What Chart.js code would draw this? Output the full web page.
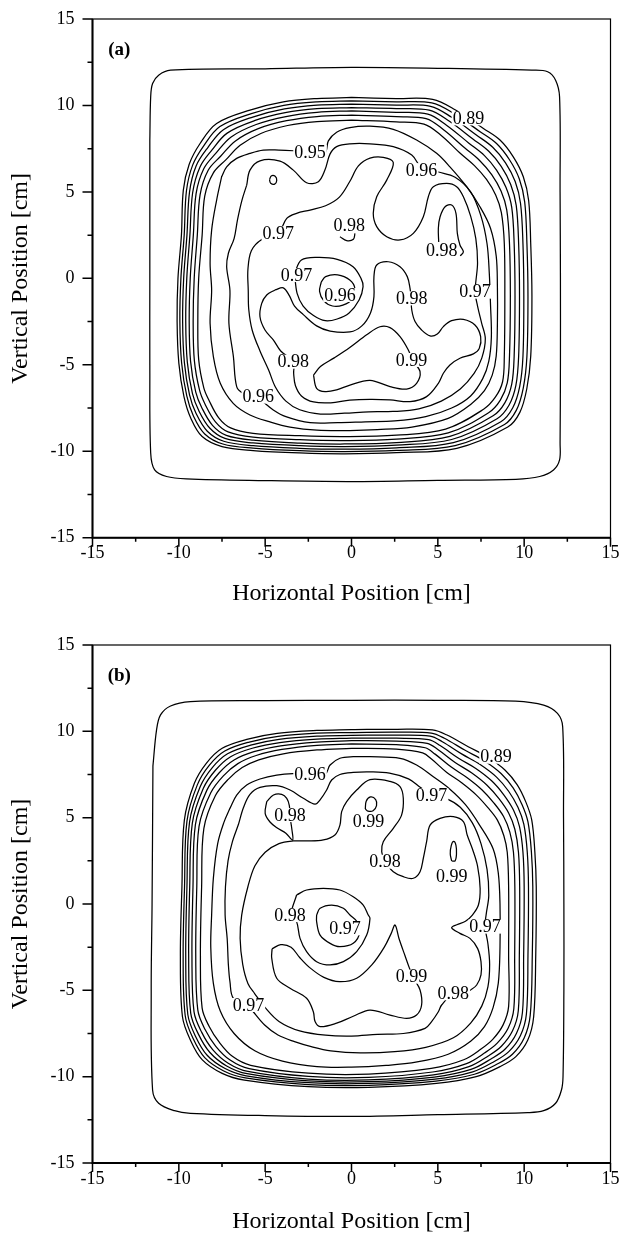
<!DOCTYPE html>
<html>
<head>
<meta charset="utf-8">
<script src="https://cdn.jsdelivr.net/npm/chart.js@4.4.1/dist/chart.umd.min.js"></script>
<style>
  html, body { margin: 0; padding: 0; background: #fff; overflow: hidden; }
  .panel { position: relative; width: 621px; height: 617px; }
</style>
</head>
<body>
<div class="panel"><canvas id="chartA"></canvas></div>
<div class="panel"><canvas id="chartB"></canvas></div>
<script>
// ---- panel (a) ----
const outerA = [[-11.68,8],[-11.63,10.5],[-11.52,11.27],[-11.17,11.75],[-10.48,12.04],[-5,12.12],[0,12.2],[5,12.15],[10.44,12.04],[11.36,11.95],[11.82,11.46],[12.05,10.5],[12.08,5],[12.1,0],[12.1,-5],[12.08,-9.5],[12.05,-10.5],[11.7,-11.08],[10.9,-11.46],[9.52,-11.62],[5,-11.68],[0,-11.75],[-5,-11.7],[-9.56,-11.6],[-10.71,-11.46],[-11.4,-11.08],[-11.63,-10.1],[-11.68,-5],[-11.68,0]];

const bandA = [
  [[0,10.46],[2.6,10.4],[4.7,10.35],[6.0,9.75],[7.64,8.67],[8.6,8.0],[9.37,7.03],[9.95,5.88],[10.26,4.5],[10.38,2],[10.45,-1],[10.38,-4.5],[10.15,-6.4],[9.75,-7.75],[9.05,-8.6],[6.1,-9.83],[2.6,-10.08],[-0.4,-10.15],[-3,-10.1],[-5.7,-9.96],[-7.5,-9.73],[-8.65,-9.15],[-9.3,-8.1],[-9.7,-6.85],[-10.0,-4.9],[-10.1,-2.5],[-10.05,0],[-9.85,2.5],[-9.74,5.1],[-9.4,6.6],[-8.77,7.8],[-7.81,8.96],[-5.88,9.73],[-3.95,10.21],[-2.0,10.4]],
  [[0,10.27],[2.6,10.21],[4.65,10.15],[5.9,9.55],[7.45,8.48],[8.4,7.8],[9.15,6.86],[9.72,5.75],[10.03,4.42],[10.16,2],[10.22,-1],[10.16,-4.5],[9.95,-6.33],[9.55,-7.62],[8.86,-8.45],[6.0,-9.67],[2.6,-9.95],[-0.4,-10.02],[-3,-9.97],[-5.7,-9.82],[-7.45,-9.58],[-8.5,-9.0],[-9.15,-7.97],[-9.54,-6.8],[-9.84,-4.88],[-9.94,-2.5],[-9.88,0],[-9.69,2.5],[-9.56,5.05],[-9.2,6.55],[-8.55,7.68],[-7.62,8.78],[-5.8,9.53],[-3.92,10.01],[-2.0,10.21]],
  [[0,10.08],[2.6,10.02],[4.58,9.95],[5.78,9.33],[7.25,8.28],[8.18,7.58],[8.92,6.68],[9.48,5.6],[9.79,4.33],[9.93,2],[9.98,-1],[9.93,-4.5],[9.74,-6.26],[9.34,-7.48],[8.65,-8.29],[5.9,-9.5],[2.6,-9.8],[-0.4,-9.88],[-3,-9.83],[-5.7,-9.68],[-7.4,-9.42],[-8.35,-8.84],[-9.0,-7.82],[-9.38,-6.74],[-9.68,-4.86],[-9.78,-2.5],[-9.72,0],[-9.53,2.5],[-9.38,5.0],[-9.0,6.5],[-8.33,7.55],[-7.42,8.6],[-5.72,9.33],[-3.88,9.8],[-2.0,10.02]],
  [[0,9.88],[2.6,9.82],[4.5,9.73],[5.65,9.1],[7.03,8.06],[7.95,7.35],[8.67,6.48],[9.22,5.43],[9.54,4.22],[9.68,2],[9.73,-1],[9.68,-4.5],[9.52,-6.19],[9.12,-7.34],[8.43,-8.12],[5.8,-9.32],[2.6,-9.65],[-0.4,-9.73],[-3,-9.68],[-5.7,-9.52],[-7.33,-9.26],[-8.2,-8.67],[-8.84,-7.66],[-9.21,-6.67],[-9.51,-4.83],[-9.6,-2.5],[-9.54,0],[-9.36,2.5],[-9.2,4.95],[-8.78,6.43],[-8.1,7.4],[-7.2,8.4],[-5.62,9.12],[-3.84,9.58],[-2.0,9.81]],
  [[0,9.69],[2.6,9.6],[4.42,9.5],[5.5,8.86],[6.8,7.82],[7.7,7.1],[8.4,6.26],[8.95,5.25],[9.28,4.1],[9.42,2],[9.47,-1],[9.42,-4.5],[9.28,-6.12],[8.88,-7.2],[8.2,-7.95],[5.7,-9.14],[2.6,-9.5],[-0.4,-9.58],[-3,-9.53],[-5.7,-9.36],[-7.25,-9.08],[-8.05,-8.5],[-8.67,-7.48],[-9.02,-6.58],[-9.32,-4.8],[-9.4,-2.5],[-9.34,0],[-9.16,2.5],[-9.0,4.9],[-8.55,6.35],[-7.85,7.24],[-6.97,8.18],[-5.52,8.9],[-3.8,9.36],[-2.0,9.6]],
  [[0,9.44],[2.6,9.35],[4.32,9.24],[5.35,8.58],[6.55,7.55],[7.42,6.82],[8.12,6.0],[8.66,5.05],[8.99,3.96],[9.15,2],[9.2,-1],[9.15,-4.5],[9.02,-6.05],[8.62,-7.04],[7.94,-7.77],[5.6,-8.94],[2.6,-9.3],[-0.4,-9.38],[-3,-9.33],[-5.7,-9.18],[-7.15,-8.88],[-7.88,-8.3],[-8.48,-7.28],[-8.8,-6.47],[-9.1,-4.76],[-9.17,-2.5],[-9.11,0],[-8.93,2.5],[-8.77,4.83],[-8.3,6.25],[-7.58,7.06],[-6.72,7.95],[-5.4,8.66],[-3.76,9.12],[-2.0,9.36]],
  [[0,9.15],[2.6,9.05],[4.2,8.92],[5.18,8.28],[6.28,7.25],[7.12,6.52],[7.82,5.72],[8.35,4.82],[8.68,3.8],[8.85,2],[8.88,-1],[8.85,-4.5],[8.75,-5.98],[8.34,-6.86],[7.65,-7.57],[5.45,-8.72],[2.6,-9.07],[-0.4,-9.15],[-3,-9.1],[-5.7,-8.96],[-7.0,-8.65],[-7.7,-8.05],[-8.27,-7.02],[-8.55,-6.35],[-8.85,-4.7],[-8.9,-2.5],[-8.85,0],[-8.65,2.5],[-8.5,4.75],[-8.0,6.1],[-7.28,6.85],[-6.45,7.7],[-5.25,8.38],[-3.7,8.84],[-2.0,9.07]]
];

const c95A = [[-7.52,5.88],[-7.23,6.45],[-6.65,6.94],[-5.88,7.23],[-5.11,7.42],[-4.2,7.42],[-3.37,7.38],[-2.4,7.3],[-1.54,7.25],[-1.34,7.95],[-0.86,8.45],[-0.09,8.72],[1.07,8.8],[2.42,8.62],[3.77,8.0],[4.93,7.23],[5.7,6.45],[6.67,5.3],[7.44,4.14],[8.05,2.9],[8.38,1.3],[8.45,-0.5],[8.45,-2.6],[8.38,-4.5],[8.15,-5.6],[7.7,-6.5],[6.9,-7.3],[5.6,-8.1],[3.5,-8.6],[1.5,-8.75],[-0.1,-8.8],[-2.0,-8.78],[-3.56,-8.6],[-4.72,-8.3],[-5.88,-7.9],[-6.85,-7.23],[-7.6,-6.07],[-8.0,-4.53],[-8.19,-2.6],[-8.1,-0.7],[-8.19,0.87],[-8.1,2.79],[-7.81,4.53]];
const c96A = [[-6.07,5.39],[-5.88,6.26],[-5.3,6.8],[-4.14,6.78],[-3.37,6.26],[-2.6,5.53],[-1.92,5.59],[-1.54,6.26],[-1.24,7.2],[-0.86,7.62],[-0.09,7.78],[1.07,7.78],[2.42,7.62],[3.49,7.13],[4.06,6.4],[5.03,6.15],[6.0,5.85],[6.9,5.0],[7.5,3.6],[7.85,2.0],[7.98,0.3],[8.05,-1.5],[8.1,-3.4],[7.95,-4.8],[7.6,-5.8],[6.9,-6.8],[5.8,-7.5],[4.3,-8.0],[2.5,-8.25],[0.8,-8.3],[-0.8,-8.35],[-2.4,-8.35],[-3.8,-8.0],[-4.53,-7.61],[-5.4,-6.95],[-6.27,-6.65],[-6.65,-6.26],[-6.84,-4.53],[-7.1,-2.6],[-7.04,-0.7],[-7.23,0.67],[-7.13,1.45],[-6.8,2.3],[-6.6,3.4],[-6.35,4.5]];
const c97A = [[-5.98,-0.7],[-6.0,0.5],[-5.8,1.6],[-5.2,2.25],[-4.24,2.6],[-3.75,3.47],[-3.18,3.76],[-2.4,3.95],[-1.5,4.2],[-0.7,4.7],[-0.1,5.6],[0.4,6.5],[1.07,6.95],[1.84,7.0],[2.42,6.7],[2.04,5.68],[1.46,4.72],[1.26,3.76],[1.46,2.99],[2.04,2.41],[2.81,2.22],[3.58,2.6],[4.16,3.56],[4.45,4.72],[4.74,5.3],[5.51,5.49],[6.09,5.3],[6.48,4.72],[6.9,3.6],[7.2,2.3],[7.3,0.9],[7.2,-0.2],[7.15,-0.77],[7.3,-1.6],[7.54,-2.6],[7.75,-3.5],[7.55,-4.6],[7.1,-5.5],[6.3,-6.4],[5.2,-7.1],[3.9,-7.55],[2.4,-7.7],[1.0,-7.72],[-0.4,-7.8],[-1.8,-7.85],[-3.0,-7.6],[-3.8,-7.1],[-4.4,-6.3],[-4.8,-5.3],[-5.3,-4.2],[-5.75,-3.0],[-5.95,-1.8]];
const c98A = [[-4.43,-0.67],[-4.91,-0.96],[-5.2,-1.45],[-5.3,-2.22],[-5.01,-2.99],[-4.53,-3.56],[-4.1,-4.2],[-3.37,-4.82],[-3.35,-5.5],[-3.25,-6.2],[-2.9,-6.8],[-2.2,-7.15],[-1.2,-7.2],[-0.1,-7.05],[1.07,-7.0],[2.23,-7.03],[3.39,-7.13],[4.35,-6.84],[5.03,-6.07],[5.32,-5.49],[5.7,-5.01],[6.28,-4.62],[7.06,-4.37],[7.4,-4.05],[7.48,-3.37],[7.15,-2.7],[6.48,-2.37],[5.8,-2.45],[5.32,-2.79],[4.97,-3.22],[4.55,-3.33],[4.06,-2.99],[3.68,-2.5],[3.49,-1.83],[3.45,-1.16],[3.39,-0.58],[3.23,0.1],[2.81,0.67],[2.13,0.96],[1.46,0.77],[1.3,0.1],[1.3,-1.06],[1.1,-2.0],[0.6,-2.75],[-0.09,-3.1],[-1.24,-3.05],[-2.02,-2.75],[-2.79,-2.1],[-3.3,-1.6],[-3.6,-1.0],[-3.95,-0.55]];
const c99A = [[-2.2,-5.6],[-1.8,-5.1],[-1.0,-4.6],[-0.1,-4.0],[0.9,-3.25],[1.65,-2.8],[2.23,-2.85],[2.81,-3.37],[3.29,-4.14],[3.55,-4.75],[3.97,-5.4],[3.77,-6.07],[3.19,-6.4],[2.23,-6.26],[1.07,-5.9],[-0.09,-6.17],[-0.86,-6.45],[-1.53,-6.55],[-2.02,-6.36]];
const loop97A = [[-3.3,0.3],[-2.9,1.06],[-1.98,1.21],[-0.83,1.1],[0.09,0.67],[0.55,0],[0.67,-0.48],[0.44,-1.25],[-0.14,-2.0],[-0.83,-2.35],[-1.52,-2.45],[-2.2,-2.15],[-2.8,-1.6],[-3.15,-0.87]];
const loop96A = [[-1.75,-0.2],[-1.5,0.1],[-0.8,0.2],[-0.1,-0.1],[0.2,-0.6],[0.05,-1.2],[-0.5,-1.55],[-1.1,-1.6],[-1.6,-1.3],[-1.85,-0.75]];
const dotA = [[-4.75,5.7],[-4.65,5.92],[-4.42,5.9],[-4.33,5.66],[-4.45,5.45],[-4.68,5.5]];
const hookA = [[-0.67,2.41],[-0.28,2.18],[0.11,2.26],[0.2,2.6]];
const tongueA = [[5.05,2.1],[5.03,2.9],[5.13,3.56],[5.42,4.14],[5.8,4.24],[6.05,3.76],[6.13,2.6],[6.28,1.93],[6.48,1.54],[6.3,1.3]];
const labelsA = [[6.77,9.25,'0.89'],[-2.4,7.32,'0.95'],[4.06,6.26,'0.96'],[-4.24,2.6,'0.97'],[-0.13,3.08,'0.98'],[5.22,1.64,'0.98'],[-3.18,0.19,'0.97'],[-0.67,-0.96,'0.96'],[3.49,-1.16,'0.98'],[7.15,-0.77,'0.97'],[-3.37,-4.82,'0.98'],[3.48,-4.72,'0.99'],[-5.4,-6.84,'0.96']];

// ---- panel (b) ----
const outerB = [[-11.5,8],[-11.29,10.08],[-11.06,10.95],[-10.48,11.47],[-9.33,11.72],[-5,11.78],[0,11.8],[5,11.8],[9.5,11.75],[11.13,11.52],[11.93,11.04],[12.23,10.27],[12.28,5],[12.3,0],[12.3,-5],[12.25,-10.0],[12.16,-10.77],[11.82,-11.54],[11.13,-11.97],[10.2,-12.08],[5,-12.2],[0,-12.3],[-5,-12.25],[-9.33,-12.12],[-10.25,-11.97],[-11.17,-11.54],[-11.52,-10.77],[-11.6,-5],[-11.55,0]];

const bandB = [
  [[0,10.1],[2.6,10.12],[4.69,10.08],[5.5,9.8],[6.76,9.11],[7.9,8.5],[8.9,7.75],[9.6,6.9],[10.1,5.9],[10.44,4.86],[10.62,3.0],[10.7,1],[10.67,-3],[10.55,-6.53],[10.21,-7.88],[9.52,-8.84],[8.6,-9.42],[7.22,-10.0],[4.92,-10.39],[1,-10.62],[-2.5,-10.58],[-6.2,-10.2],[-7.49,-9.81],[-8.64,-9.03],[-9.33,-7.88],[-9.79,-6.53],[-9.91,-3],[-9.82,1],[-9.68,4.86],[-9.1,6.99],[-8.41,8.15],[-7.49,9.02],[-6.0,9.55],[-4.3,9.88],[-2,10.05]],
  [[0,9.93],[2.6,9.95],[4.62,9.9],[5.38,9.6],[6.58,8.9],[7.68,8.3],[8.66,7.56],[9.36,6.72],[9.88,5.75],[10.22,4.75],[10.42,3.0],[10.5,1],[10.47,-3],[10.35,-6.45],[10.0,-7.76],[9.32,-8.7],[8.44,-9.27],[7.12,-9.86],[4.88,-10.26],[1,-10.5],[-2.5,-10.46],[-6.15,-10.07],[-7.4,-9.67],[-8.5,-8.9],[-9.18,-7.78],[-9.63,-6.47],[-9.75,-3],[-9.67,1],[-9.53,4.8],[-8.93,6.9],[-8.24,8.03],[-7.34,8.86],[-5.92,9.38],[-4.25,9.71],[-2,9.89]],
  [[0,9.77],[2.6,9.78],[4.55,9.72],[5.26,9.4],[6.4,8.68],[7.45,8.08],[8.4,7.35],[9.1,6.53],[9.64,5.6],[9.98,4.62],[10.18,3.0],[10.25,1],[10.22,-3],[10.13,-6.37],[9.78,-7.63],[9.11,-8.55],[8.27,-9.12],[7.02,-9.72],[4.84,-10.14],[1,-10.39],[-2.5,-10.35],[-6.1,-9.95],[-7.32,-9.53],[-8.36,-8.76],[-9.03,-7.67],[-9.48,-6.4],[-9.6,-3],[-9.53,1],[-9.38,4.74],[-8.76,6.8],[-8.06,7.9],[-7.18,8.7],[-5.84,9.2],[-4.2,9.53],[-2,9.72]],
  [[0,9.61],[2.6,9.6],[4.47,9.52],[5.13,9.18],[6.2,8.44],[7.2,7.85],[8.13,7.12],[8.82,6.32],[9.38,5.44],[9.73,4.48],[9.93,3.0],[10.0,1],[9.97,-3],[9.9,-6.28],[9.55,-7.5],[8.9,-8.4],[8.1,-8.96],[6.92,-9.58],[4.8,-10.02],[1,-10.29],[-2.5,-10.25],[-6.05,-9.83],[-7.23,-9.38],[-8.2,-8.6],[-8.86,-7.55],[-9.31,-6.33],[-9.43,-3],[-9.37,1],[-9.22,4.67],[-8.58,6.7],[-7.87,7.76],[-7.0,8.53],[-5.75,9.02],[-4.15,9.35],[-2,9.55]],
  [[0,9.46],[2.6,9.43],[4.38,9.3],[5.0,8.95],[6.0,8.2],[6.95,7.6],[7.85,6.88],[8.54,6.1],[9.1,5.27],[9.46,4.33],[9.67,3.0],[9.74,1],[9.72,-3],[9.66,-6.18],[9.32,-7.36],[8.68,-8.24],[7.92,-8.8],[6.8,-9.42],[4.75,-9.9],[1,-10.19],[-2.5,-10.14],[-6.0,-9.7],[-7.14,-9.22],[-8.04,-8.43],[-8.68,-7.42],[-9.12,-6.25],[-9.24,-3],[-9.18,1],[-9.04,4.6],[-8.38,6.58],[-7.66,7.6],[-6.8,8.34],[-5.65,8.82],[-4.1,9.16],[-2,9.38]],
  [[0,9.27],[2.6,9.23],[4.27,9.05],[4.84,8.68],[5.78,7.93],[6.68,7.33],[7.55,6.62],[8.24,5.86],[8.8,5.08],[9.17,4.16],[9.38,3.0],[9.46,1],[9.45,-3],[9.4,-6.07],[9.07,-7.2],[8.44,-8.06],[7.72,-8.62],[6.66,-9.24],[4.7,-9.73],[1,-10.04],[-2.5,-9.99],[-5.93,-9.54],[-7.03,-9.04],[-7.86,-8.24],[-8.48,-7.27],[-8.9,-6.15],[-9.02,-3],[-8.96,1],[-8.83,4.5],[-8.15,6.44],[-7.42,7.42],[-6.58,8.13],[-5.52,8.6],[-4.03,8.95],[-2,9.19]],
  [[0,9.02],[2.6,8.97],[4.12,8.75],[4.65,8.38],[5.52,7.62],[6.38,7.02],[7.22,6.32],[7.9,5.58],[8.45,4.86],[8.82,3.97],[9.02,3.0],[9.1,1],[9.1,-3],[9.1,-5.93],[8.78,-7.0],[8.18,-7.84],[7.5,-8.4],[6.5,-9.02],[4.62,-9.52],[1,-9.85],[-2.5,-9.8],[-5.84,-9.34],[-6.9,-8.82],[-7.65,-8.02],[-8.25,-7.08],[-8.65,-6.03],[-8.75,-3],[-8.68,1],[-8.55,4.38],[-7.88,6.28],[-7.14,7.22],[-6.33,7.9],[-5.37,8.35],[-3.95,8.7],[-2,8.92]]
];

const c96B = [[-7.04,5.54],[-6.65,6.31],[-6.07,6.89],[-5.3,7.24],[-4.33,7.47],[-3.4,7.55],[-2.4,7.51],[-1.53,7.51],[-1.24,8.05],[-0.67,8.44],[0.1,8.53],[1.07,8.53],[2.81,8.44],[3.77,8.05],[4.74,7.37],[5.7,6.65],[6.6,5.75],[7.4,4.6],[8.2,3.2],[8.5,1.8],[8.6,0],[8.6,-2.5],[8.5,-4.6],[8.2,-6.0],[7.7,-7.1],[6.9,-7.95],[5.6,-8.7],[3.8,-9.15],[2.0,-9.35],[0,-9.45],[-2.0,-9.42],[-4.0,-9.1],[-5.6,-8.5],[-6.8,-7.5],[-7.6,-6.2],[-8.0,-4.6],[-8.15,-2.5],[-8.1,-0.64],[-8.0,1.5],[-7.75,3.5],[-7.4,4.7]];
const c97B = [[-6.55,4.6],[-6.25,5.6],[-5.88,6.35],[-5.3,6.75],[-4.33,6.85],[-3.56,6.6],[-2.79,6.12],[-2.11,5.78],[-1.82,6.03],[-1.44,6.6],[-1.15,7.18],[-0.67,7.5],[0.1,7.62],[1.07,7.65],[2.2,7.58],[3.3,7.25],[4.0,6.75],[4.64,6.31],[5.5,6.1],[6.3,5.6],[7.0,4.7],[7.5,3.5],[7.85,2.0],[7.95,0.5],[7.8,-0.6],[7.73,-1.31],[7.9,-2.3],[8.0,-3.5],[7.9,-4.8],[7.55,-5.9],[6.9,-6.9],[5.9,-7.75],[4.3,-8.3],[2.5,-8.55],[0.5,-8.62],[-1.2,-8.5],[-2.33,-8.26],[-3.3,-7.97],[-4.26,-7.59],[-5.03,-7.01],[-5.69,-6.24],[-5.97,-5.85],[-6.84,-5.46],[-7.04,-4.5],[-7.13,-3.53],[-7.2,-2.0],[-7.32,-0.64],[-7.3,1.0],[-7.15,2.5],[-6.9,3.6]];
const c98B = [[1.94,2.45],[1.75,3.03],[1.84,3.61],[2.42,4.38],[2.9,5.15],[3.0,6.12],[2.81,6.8],[2.23,7.1],[1.07,7.2],[0.3,6.6],[-0.28,5.93],[-0.57,5.35],[-0.67,4.57],[-0.96,4.0],[-1.63,3.71],[-2.6,3.65],[-3.37,3.65],[-4.2,3.5],[-5.0,3.0],[-5.6,2.2],[-6.0,1.0],[-6.36,-0.64],[-6.45,-2.0],[-6.3,-3.5],[-6.0,-4.6],[-5.6,-5.2],[-5.0,-6.0],[-4.2,-6.8],[-3.0,-7.35],[-1.5,-7.6],[0,-7.65],[1.5,-7.55],[3.0,-7.5],[4.26,-7.2],[4.64,-6.81],[5.03,-6.24],[5.22,-5.85],[5.9,-5.17],[6.67,-5.08],[6.9,-4.98],[7.25,-4.69],[7.5,-4.11],[7.5,-3.34],[7.3,-2.57],[6.86,-1.99],[6.28,-1.7],[5.8,-1.38],[6.1,-1.2],[6.6,-1.0],[7.0,-0.64],[7.35,-0.06],[7.45,0.9],[7.3,2.2],[7.0,3.2],[6.7,4.0],[6.48,4.77],[5.9,5.06],[5.13,4.96],[4.55,4.57],[4.35,3.61],[4.16,2.65],[3.97,1.87],[3.58,1.49],[3.0,1.58],[2.42,1.87]];
const c99B = [[-4.6,-2.6],[-4.1,-2.35],[-3.5,-2.5],[-3.0,-3.1],[-2.4,-3.7],[-1.6,-4.25],[-0.7,-4.5],[0.3,-4.3],[1.2,-3.5],[1.9,-2.5],[2.3,-1.7],[2.52,-1.22],[2.75,-2.0],[3.1,-3.0],[3.35,-3.7],[3.6,-4.3],[3.97,-4.98],[4.06,-5.85],[3.77,-6.43],[3.19,-6.62],[2.23,-6.43],[1.07,-6.14],[0.1,-6.5],[-0.86,-6.9],[-1.82,-7.1],[-2.11,-6.81],[-2.21,-6.24],[-2.6,-5.46],[-3.56,-4.88],[-4.33,-4.3],[-4.62,-3.14]];
const loop98B = [[-3.18,0.52],[-2.6,0.81],[-1.63,0.91],[-0.67,0.81],[0.1,0.42],[0.68,-0.06],[0.97,-0.64],[1.07,-0.83],[0.88,-1.8],[0.3,-2.76],[-0.47,-3.34],[-1.24,-3.53],[-2.02,-3.34],[-2.6,-2.76],[-2.98,-1.99],[-3.18,-1.02],[-3.5,-0.64]];
const loop97B = [[-2.02,-0.64],[-1.82,-0.25],[-1.15,-0.06],[-0.47,-0.25],[-0.09,-0.64],[0.3,-1.0],[0.49,-1.6],[0.1,-2.28],[-0.67,-2.47],[-1.24,-2.28],[-1.82,-1.8],[-2.02,-1.02]];
const cap98B = [[-4.91,5.93],[-4.52,6.31],[-4.04,6.35],[-3.75,6.12],[-3.6,5.7],[-3.55,5.0],[-3.45,4.3],[-3.41,3.7],[-3.8,4.1],[-4.3,4.4],[-4.72,4.75],[-5.0,5.25]];
const dot99B = [[0.8,5.5],[0.85,5.95],[1.1,6.2],[1.4,6.05],[1.45,5.7],[1.25,5.4],[0.95,5.38]];
const seed99B = [[5.8,2.5],[5.72,2.9],[5.78,3.4],[5.92,3.62],[6.05,3.4],[6.08,2.9],[6.0,2.5]];
const labelsB = [[8.37,8.53,'0.89'],[-2.4,7.51,'0.96'],[-3.56,5.15,'0.98'],[0.98,4.77,'0.99'],[4.64,6.31,'0.97'],[1.94,2.45,'0.98'],[5.8,1.58,'0.99'],[-3.56,-0.64,'0.98'],[-0.38,-1.41,'0.97'],[7.73,-1.31,'0.97'],[3.48,-4.21,'0.99'],[5.9,-5.17,'0.98'],[-5.97,-5.85,'0.97']];

const axisTicks = [-15, -12.5, -10, -7.5, -5, -2.5, 0, 2.5, 5, 7.5, 10, 12.5, 15];

const FONT = "'Liberation Serif', 'Times New Roman', serif";
Chart.defaults.color = '#000';
Chart.defaults.font.family = FONT;

const toPts = (arr, closed) => (closed ? arr.concat([arr[0]]) : arr).map(p => ({ x: p[0], y: p[1] }));

function contourSet(arr, closed) {
    return {
        data: toPts(arr, closed),
        showLine: true,
        borderColor: '#000',
        borderWidth: 1.25,
        pointRadius: 0,
        tension: 0.35,
        fill: false
    };
}

// frame, tick marks, contour labels and panel tag
const panelPlugin = {
    id: 'panel',
    afterDatasetsDraw(chart, args, opts) {
        const { ctx, scales: { x, y } } = chart;
        ctx.save();
        ctx.font = '18px ' + FONT;
        ctx.textAlign = 'center';
        ctx.textBaseline = 'middle';
        opts.labels.forEach(l => {
            const px = x.getPixelForValue(l[0]);
            const py = y.getPixelForValue(l[1]);
            const w = ctx.measureText(l[2]).width;
            ctx.fillStyle = '#fff';
            ctx.fillRect(px - w / 2 - 1, py - 7, w + 2, 14);
            ctx.fillStyle = '#000';
            ctx.fillText(l[2], px, py + 1);
        });
        ctx.restore();
    },
    afterDraw(chart, args, opts) {
        const { ctx, chartArea: a, scales: { x, y } } = chart;
        ctx.save();
        ctx.strokeStyle = '#000';
        ctx.lineWidth = 1.2;
        ctx.strokeRect(a.left, a.top, a.right - a.left, a.bottom - a.top);
        ctx.lineWidth = 2;
        ctx.beginPath();
        ctx.moveTo(a.left, a.top);
        ctx.lineTo(a.left, a.bottom);
        ctx.lineTo(a.right, a.bottom);
        ctx.stroke();
        ctx.lineWidth = 1.5;
        axisTicks.forEach(v => {
            const major = v % 5 === 0;
            const px = x.getPixelForValue(v);
            const py = y.getPixelForValue(v);
            ctx.beginPath();
            ctx.moveTo(px, a.bottom);
            ctx.lineTo(px, a.bottom + (major ? 9 : 4));
            ctx.moveTo(a.left, py);
            ctx.lineTo(a.left - (major ? 10 : 5), py);
            ctx.stroke();
        });
        ctx.font = 'bold 19px ' + FONT;
        ctx.fillStyle = '#000';
        ctx.textAlign = 'center';
        ctx.textBaseline = 'middle';
        ctx.fillText(opts.tag, x.getPixelForValue(-13.45), y.getPixelForValue(13.2));
        ctx.restore();
    }
};

function makePanel(id, lines, labels, tag, padTop, xHeight, titlePad) {
    new Chart(document.getElementById(id), {
        type: 'scatter',
        data: { datasets: lines },
        options: {
            responsive: true,
            maintainAspectRatio: false,
            animation: false,
            layout: { padding: { top: padTop, right: 10.5, left: 0, bottom: 0 } },
            plugins: {
                legend: { display: false },
                tooltip: { enabled: false },
                panel: { labels: labels, tag: tag }
            },
            scales: {
                x: {
                    type: 'linear',
                    min: -15, max: 15,
                    afterFit: s => { s.height = xHeight; s.paddingLeft = 0; s.paddingRight = 0; },
                    grid: { display: false, drawTicks: false },
                    border: { display: false },
                    ticks: {
                        stepSize: 2.5, autoSkip: false, maxRotation: 0, padding: 5,
                        font: { size: 18 },
                        callback: v => (v % 5 === 0 ? String(v) : '')
                    },
                    title: {
                        display: true, text: 'Horizontal Position [cm]',
                        font: { size: 24, lineHeight: 1 },
                        padding: { top: 0, bottom: titlePad }
                    }
                },
                y: {
                    type: 'linear',
                    min: -15, max: 15,
                    afterFit: s => { s.width = 92.5; s.paddingTop = 0; s.paddingBottom = 0; },
                    grid: { display: false, drawTicks: false },
                    border: { display: false },
                    ticks: {
                        stepSize: 2.5, autoSkip: false, padding: 18,
                        font: { size: 18 },
                        callback: v => (v % 5 === 0 ? String(v) : '')
                    },
                    title: {
                        display: true, text: 'Vertical Position [cm]',
                        font: { size: 24, lineHeight: 1 },
                        padding: { top: 9, bottom: 0 }
                    }
                }
            }
        },
        plugins: [panelPlugin]
    });
}

const linesA = [contourSet(outerA, true)]
    .concat(bandA.map(r => contourSet(r, true)))
    .concat([
        contourSet(c95A, true), contourSet(c96A, true), contourSet(c97A, true),
        contourSet(c98A, true), contourSet(c99A, true), contourSet(loop97A, true),
        contourSet(loop96A, true), contourSet(dotA, true), contourSet(hookA, false),
        contourSet(tongueA, false)
    ]);

const linesB = [contourSet(outerB, true)]
    .concat(bandB.map(r => contourSet(r, true)))
    .concat([
        contourSet(c96B, true), contourSet(c97B, true), contourSet(c98B, true),
        contourSet(c99B, true), contourSet(loop98B, true), contourSet(loop97B, true),
        contourSet(cap98B, true), contourSet(dot99B, true), contourSet(seed99B, true)
    ]);

makePanel('chartA', linesA, labelsA, '(a)', 19, 79.3, 11);
makePanel('chartB', linesB, labelsB, '(b)', 28, 71, 0.5);
</script>
</body>
</html>
